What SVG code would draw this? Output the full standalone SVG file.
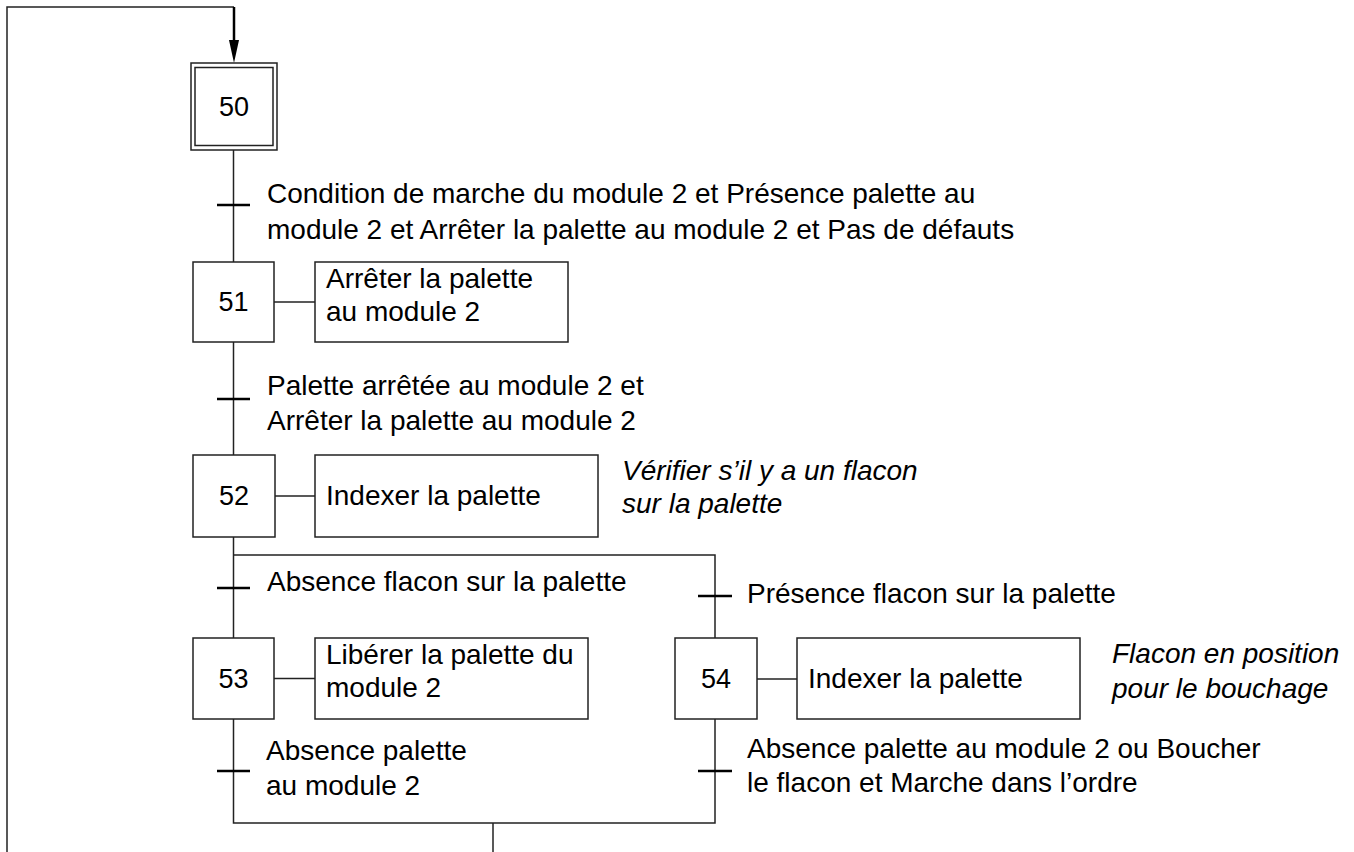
<svg xmlns="http://www.w3.org/2000/svg" width="1354" height="852" viewBox="0 0 1354 852">
<style>
.box{fill:#fff;stroke:#222;stroke-width:1.5}
.ln{fill:none;stroke:#222;stroke-width:1.5}
.tk{stroke:#000;stroke-width:2.5}
text{font-family:"Liberation Sans",Arial,sans-serif;font-size:28px;fill:#000}
.num{text-anchor:middle;font-size:27px}
.it{font-style:italic}
</style>
<rect width="1354" height="852" fill="#fff"/>
<g id="connectors">
<path class="ln" d="M7,852 V7 H234"/>
<path d="M234,7 V40" stroke="#000" stroke-width="2.5" fill="none"/>
<path d="M229,40 L239,40 L234,63 Z" fill="#000"/>
<path class="ln" d="M233.5,150 V262"/>
<line class="tk" x1="217" y1="205" x2="250" y2="205"/>
<path class="ln" d="M233.5,342 V455"/>
<line class="tk" x1="217" y1="399" x2="250" y2="399"/>
<path class="ln" d="M233.5,537 V638"/>
<path class="ln" d="M233.5,555 H715 V638"/>
<line class="tk" x1="217" y1="588" x2="250" y2="588"/>
<line class="tk" x1="698" y1="596" x2="732" y2="596"/>
<path class="ln" d="M233.5,719 V823 H715 V719"/>
<line class="tk" x1="217" y1="771" x2="250" y2="771"/>
<line class="tk" x1="698" y1="771" x2="732" y2="771"/>
<path class="ln" d="M493,823 V852"/>
<path class="ln" d="M274,302 H315"/>
<path class="ln" d="M275,496 H315"/>
<path class="ln" d="M274,678.5 H315"/>
<path class="ln" d="M757,679 H797"/>
</g>
<g id="step50">
<rect class="box" x="191" y="63" width="86" height="87"/>
<rect class="box" x="195" y="67.5" width="78" height="78"/>
<text class="num" x="234" y="116">50</text>
</g>
<g id="t50-51">
<text x="267" y="203">Condition de marche du module 2 et Présence palette au</text>
<text x="267" y="239">module 2 et Arrêter la palette au module 2 et Pas de défauts</text>
</g>
<g id="step51">
<rect class="box" x="193" y="262" width="81" height="80"/>
<text class="num" x="233.5" y="311">51</text>
</g>
<g id="action51">
<rect class="box" x="315" y="262" width="253" height="80"/>
<text x="326" y="288">Arrêter la palette</text>
<text x="326" y="321">au module 2</text>
</g>
<g id="t51-52">
<text x="267" y="395">Palette arrêtée au module 2 et</text>
<text x="267" y="430">Arrêter la palette au module 2</text>
</g>
<g id="step52">
<rect class="box" x="193" y="455" width="82" height="82"/>
<text class="num" x="234" y="505">52</text>
</g>
<g id="action52">
<rect class="box" x="315" y="455" width="283" height="82"/>
<text x="326" y="505">Indexer la palette</text>
</g>
<g id="comment52">
<text class="it" x="622" y="480">Vérifier s’il y a un flacon</text>
<text class="it" x="622" y="513">sur la palette</text>
</g>
<g id="t52-53">
<text x="267" y="591">Absence flacon sur la palette</text>
</g>
<g id="t52-54">
<text x="747" y="603">Présence flacon sur la palette</text>
</g>
<g id="step53">
<rect class="box" x="193" y="638" width="81" height="81"/>
<text class="num" x="233.5" y="688">53</text>
</g>
<g id="action53">
<rect class="box" x="315" y="638" width="273" height="81"/>
<text x="326" y="664">Libérer la palette du</text>
<text x="326" y="697">module 2</text>
</g>
<g id="step54">
<rect class="box" x="675" y="638" width="82" height="81"/>
<text class="num" x="716" y="688">54</text>
</g>
<g id="action54">
<rect class="box" x="797" y="638" width="283" height="81"/>
<text x="808" y="688">Indexer la palette</text>
</g>
<g id="comment54">
<text class="it" x="1112" y="663">Flacon en position</text>
<text class="it" x="1112" y="698">pour le bouchage</text>
</g>
<g id="t53">
<text x="266" y="760">Absence palette</text>
<text x="266" y="795">au module 2</text>
</g>
<g id="t54">
<text x="747" y="758">Absence palette au module 2 ou Boucher</text>
<text x="747" y="792">le flacon et Marche dans l’ordre</text>
</g>
</svg>
